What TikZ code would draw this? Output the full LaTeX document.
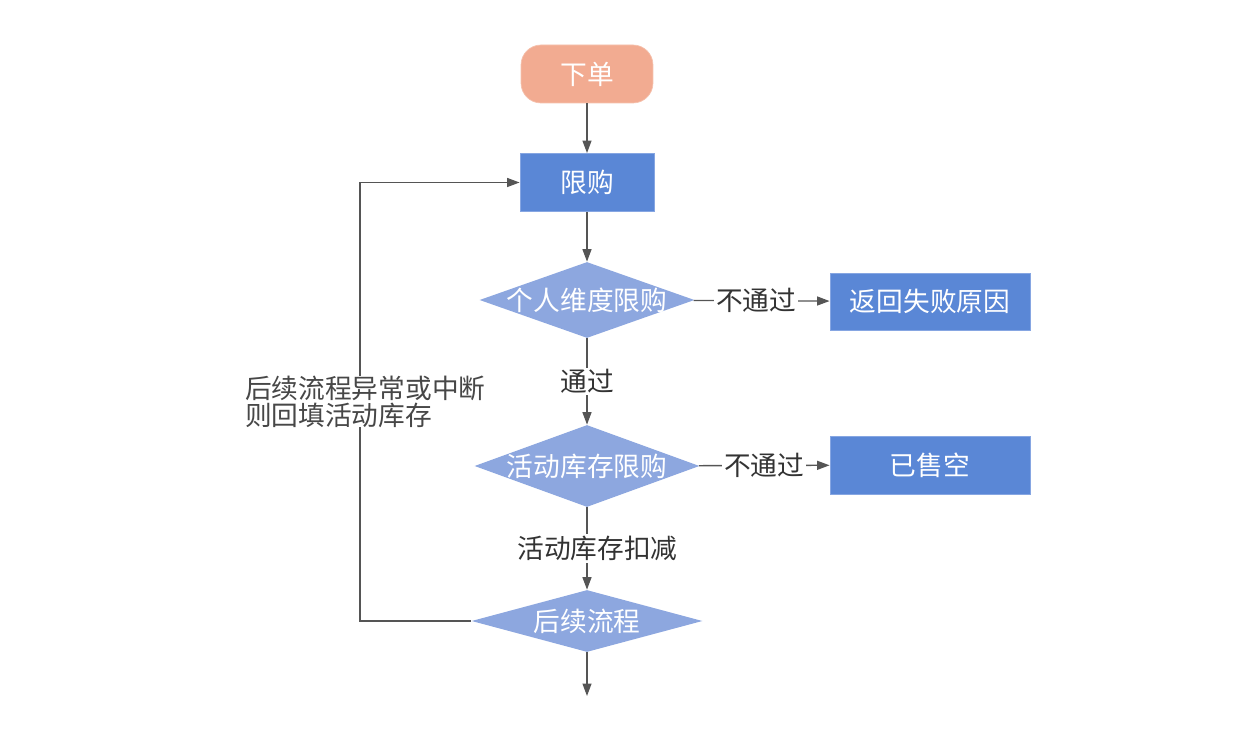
\documentclass[tikz,border=0pt]{standalone}
\usepackage{fontspec}
\setmainfont{Noto Sans CJK SC}
\usetikzlibrary{arrows.meta, shapes.geometric}

\definecolor{startfill}{HTML}{F2AB91}
\definecolor{startline}{HTML}{F5C2AE}
\definecolor{boxfill}{HTML}{5A87D6}
\definecolor{boxline}{HTML}{86A6E2}
\definecolor{decfill}{HTML}{8DA7DF}
\definecolor{linkgray}{HTML}{555555}
\definecolor{textgray}{HTML}{333333}

% zero width text, so the diamond takes its size from the minimums only
\newcommand{\flattext}[1]{\makebox[0pt]{#1}}

\begin{document}
\begin{tikzpicture}[%
        > = {Triangle[length=0.25cm, width=0.18cm]},
        x = 0.02cm, y = -0.02cm,
        font = \fontsize{15.2}{16}\selectfont,
        startbox/.style = {rectangle, rounded corners=0.4cm, fill=startfill,
            draw=startline, text=white, minimum width=2.64cm, minimum height=1.16cm},
        stepbox/.style = {rectangle, fill=boxfill, draw=boxline, line width=0.5pt,
            text=white, minimum height=1.16cm},
        decision/.style = {diamond, fill=decfill, inner sep=0pt, text=white},
        link/.style = {->, draw=linkgray, line width=0.75pt},
        linklabel/.style = {fill=white, inner sep=1pt, text=textgray}
    ]

        % Fix the margins of the picture.
        \useasboundingbox (0, 0) rectangle (1234, 732);

        % Main column of the flow.
        \node[startbox] (order) at (587, 74) {下单};
        \node[stepbox, minimum width=2.68cm] (limit) at (587, 182.5) {限购};
        \node[decision, minimum width=4.3cm, minimum height=1.52cm] (person) at (587, 300) {\flattext{个人维度限购}};
        \node[decision, minimum width=4.5cm, minimum height=1.64cm] (stock) at (587, 466) {\flattext{活动库存限购}};
        \node[decision, minimum width=4.62cm, minimum height=1.24cm] (next) at (587, 621) {\flattext{后续流程}};
        \coordinate (out) at (587, 696);

        % Boxes on the right for the failed checks.
        \node[stepbox, minimum width=4cm, minimum height=1.14cm] (fail) at (930, 301.5) {返回失败原因};
        \node[stepbox, minimum width=4cm] (soldout) at (930, 465) {已售空};

        % Connect the steps.
        \draw[link] (order) to (limit);
        \draw[link] (limit) to (person);
        \draw[link] (person) to node[linklabel] {通过} (stock);
        \draw[link] (stock) to node[linklabel, xshift=6] {活动库存扣减} (next);
        \draw[link] (next) to (out);
        \draw[link] (person) to node[linklabel, xshift=-3] {不通过} (fail);
        \draw[link] (stock) to node[linklabel] {不通过} (soldout);

        % Loop back when the rest of the flow goes wrong.
        \draw[link] (next.west) -- (360, 621) coordinate (turn)
            -- (turn |- limit.west)
            node[midway, linklabel, align=left, inner sep=0pt, xshift=3,
                font=\fontsize{15.2}{12.4}\selectfont, text=textgray!90]
                {后续流程异常或中断\\则回填活动库存}
            -- (limit.west);
    \end{tikzpicture}
\end{document}
